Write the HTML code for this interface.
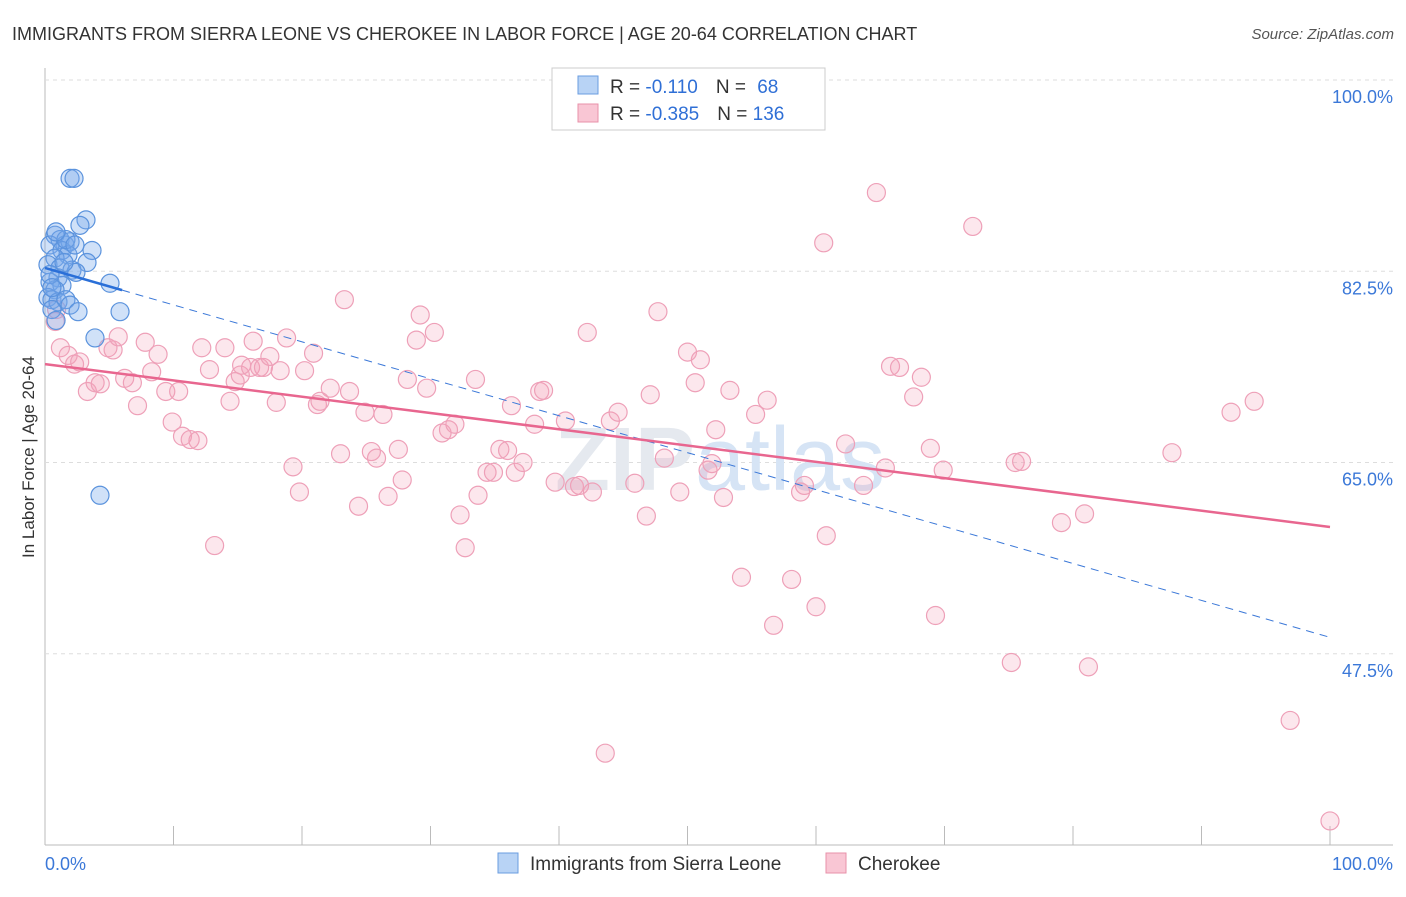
<!DOCTYPE html>
<html><head><meta charset="utf-8"><style>
body{margin:0;background:#fff;font-family:"Liberation Sans",sans-serif;}
svg text{font-family:"Liberation Sans",sans-serif;}
</style></head><body>
<svg width="1406" height="892" viewBox="0 0 1406 892" xmlns="http://www.w3.org/2000/svg">
<text x="12" y="40" font-size="18" fill="#333">IMMIGRANTS FROM SIERRA LEONE VS CHEROKEE IN LABOR FORCE | AGE 20-64 CORRELATION CHART</text>
<text x="1394" y="39" font-size="15" font-style="italic" fill="#555" text-anchor="end">Source: ZipAtlas.com</text>
<g id="grid"></g>
<text x="720" y="490" font-size="90" fill="#e5e9ef" text-anchor="middle" font-weight="bold">ZIP<tspan fill="#d6e4f5" font-weight="normal">atlas</tspan></text>
<g id="pts"></g>
<g id="lines"></g>
<text transform="translate(34,457) rotate(-90)" font-size="17" fill="#333" text-anchor="middle">In Labor Force | Age 20-64</text>
<g>
<rect x="552" y="68" width="273" height="62" fill="#fff" stroke="#ccc"/>
<rect x="578" y="76" width="20" height="18" fill="#b8d3f5" stroke="#6a9de0"/>
<rect x="578" y="104" width="20" height="18" fill="#f9c6d4" stroke="#e891aa"/>
<text x="610" y="93" font-size="19" fill="#333">R = <tspan fill="#2f6fd6">-0.110</tspan><tspan dx="18">N = </tspan><tspan fill="#2f6fd6" dx="6">68</tspan></text>
<text x="610" y="120" font-size="19" fill="#333">R = <tspan fill="#2f6fd6">-0.385</tspan><tspan dx="18">N = </tspan><tspan fill="#2f6fd6">136</tspan></text>
</g>
<g>
<rect x="498" y="853" width="20" height="20" fill="#b8d3f5" stroke="#6a9de0"/>
<text x="530" y="870" font-size="19" fill="#333">Immigrants from Sierra Leone</text>
<rect x="826" y="853" width="20" height="20" fill="#f9c6d4" stroke="#e891aa"/>
<text x="858" y="870" font-size="19" fill="#333">Cherokee</text>
</g>
</svg>
<script>
const yTicks=[100,82.5,65,47.5];
const yTickLabels=["100.0%","82.5%","65.0%","47.5%"];
const xTickLabels=["0.0%","100.0%"];
const blueX=[1.95,2.26,3.19,2.72,3.66,3.27,0.78,1.17,1.56,1.95,0.39,1.32,1.79,0.78,0.23,1.17,2.10,2.41,1.01,0.39,1.32,0.78,0.23,0.54,1.01,1.63,1.95,5.06,5.84,2.57,3.89,4.28,0.54,0.86,1.48,0.39,0.54,1.63,2.33,0.86];
const blueY=[91.0,91.0,87.2,86.7,84.4,83.3,85.8,85.4,84.9,85.2,84.9,84.4,84.0,83.7,83.1,82.8,82.6,82.4,81.9,81.5,81.2,80.8,80.1,79.9,79.7,79.9,79.4,81.4,78.8,78.8,76.4,62.0,79.0,78.0,83.3,82.2,81.0,85.4,84.9,86.1];
const pinkX=[0.8,1.2,1.8,2.3,2.7,3.3,3.9,4.3,4.9,5.3,5.7,6.2,6.8,7.2,7.8,8.3,8.8,9.4,9.9,10.4,10.7,11.3,11.9,12.2,12.8,13.2,14.0,14.4,14.8,15.2,15.3,16.0,16.2,16.7,17.0,17.5,18.0,18.3,18.8,19.3,19.8,20.2,20.9,21.2,21.4,22.2,23.0,23.3,23.7,24.4,24.9,25.4,25.8,26.3,26.7,27.5,27.8,28.2,28.9,29.2,29.7,30.3,30.9,31.4,31.9,32.3,32.7,33.5,33.7,34.4,34.9,35.4,36.0,36.3,36.6,37.2,38.1,38.5,38.8,39.7,40.5,41.2,41.6,42.2,42.6,44.0,44.6,45.9,46.8,47.1,47.7,48.2,49.4,50.0,50.6,51.0,51.6,51.9,52.2,52.8,53.3,54.2,55.3,56.2,56.7,58.1,58.8,59.1,60.0,60.6,60.8,62.3,63.7,64.7,65.4,65.8,66.5,67.6,68.2,68.9,69.3,69.9,72.2,75.2,75.5,76.0,79.1,80.9,81.2,87.7,92.3,94.1,96.9,100,43.6,44.7,53.7,0.9];
const pinkY=[77.9,75.5,74.8,74.0,74.2,71.5,72.3,72.2,75.5,75.3,76.5,72.7,72.3,70.2,76.0,73.3,74.9,71.5,68.7,71.5,67.4,67.1,67.0,75.5,73.5,57.4,75.5,70.6,72.4,73.0,73.9,73.7,76.1,73.7,73.7,74.7,70.5,73.4,76.4,64.6,62.3,73.4,75.0,70.3,70.6,71.8,65.8,79.9,71.5,61.0,69.6,66.0,65.4,69.4,61.9,66.2,63.4,72.6,76.2,78.5,71.8,76.9,67.7,68.0,68.5,60.2,57.2,72.6,62.0,64.1,64.1,66.2,66.1,70.2,64.1,65.0,68.5,71.5,71.6,63.2,68.8,62.8,62.9,76.9,62.3,68.8,69.6,63.1,60.1,71.2,78.8,65.4,62.3,75.1,72.3,74.4,64.3,64.9,68.0,61.8,71.6,54.5,69.4,70.7,50.1,54.3,62.3,62.9,51.8,85.1,58.3,66.7,62.9,89.7,64.5,73.8,73.7,71.0,72.8,66.3,51.0,64.3,86.6,46.7,65.0,65.1,59.5,60.3,46.3,65.9,69.6,70.6,41.4,32.2,38.4,99.8,99.8,79.0];
const blueFit=[82.8,-0.338], pinkFit=[74.0,-0.149];
const NS="http://www.w3.org/2000/svg";
const X0=45,X1=1330,YT=80,YB=845;
const xs=v=>X0+v/100*(X1-X0);
const ys=v=>YT+(100-v)/70*(YB-YT);
function mk(t,a,p){const e=document.createElementNS(NS,t);for(const k in a)e.setAttribute(k,a[k]);p.appendChild(e);return e;}
const g=document.getElementById('grid');
let ax=mk('line',{x1:X0,y1:68,x2:X0,y2:YB,stroke:'#bbb'},g);


let bx=mk('line',{x1:X0,y1:YB,x2:1393,y2:YB,stroke:'#bbb'},g);


yTicks.forEach((t,i)=>{
 const l=mk('line',{x1:X0,x2:1393,y1:ys(t),y2:ys(t),stroke:'#ddd','stroke-dasharray':'4,4'},g);
 
 
 const tx=mk('text',{x:1393,y:ys(t)+23,'font-size':18,fill:'#3b78d8','text-anchor':'end'},g);
 tx.textContent=yTickLabels[i];
 
 
});
for(let i=1;i<=10;i++){const l=mk('line',{x1:xs(i*10),x2:xs(i*10),y1:826,y2:YB,stroke:'#bbb'},g);
 
 }
[[0,'start',45],[100,'end',1393]].forEach((d,i)=>{const t=mk('text',{x:d[2],y:870,'font-size':18,fill:'#3b78d8','text-anchor':d[1]},g);t.textContent=xTickLabels[i];
 
 });
const pg=document.getElementById('pts');
pinkX.forEach((x,i)=>{const c=mk('circle',{cx:xs(x),cy:ys(pinkY[i]),r:9,fill:'rgba(244,160,185,0.25)',stroke:'#eea0b8','stroke-width':1.2},pg);
 
 });
blueX.forEach((x,i)=>{const c=mk('circle',{cx:xs(x),cy:ys(blueY[i]),r:9,fill:'rgba(120,170,235,0.35)',stroke:'#5b93dd','stroke-width':1.2},pg);
 
 });
const lg=document.getElementById('lines');
const f=(fit,x)=>fit[0]+fit[1]*x;
let d=mk('line',{x1:xs(6),y1:ys(f(blueFit,6)),x2:xs(100),y2:ys(f(blueFit,100)),stroke:'#3b78d8','stroke-width':1,'stroke-dasharray':'8,6'},lg);


let b=mk('line',{x1:xs(0),y1:ys(f(blueFit,0)),x2:xs(6),y2:ys(f(blueFit,6)),stroke:'#2a6fd8','stroke-width':2.5},lg);


let p=mk('line',{x1:xs(0),y1:ys(f(pinkFit,0)),x2:xs(100),y2:ys(f(pinkFit,100)),stroke:'#e8668f','stroke-width':2.5},lg);


</script>
</body></html>
